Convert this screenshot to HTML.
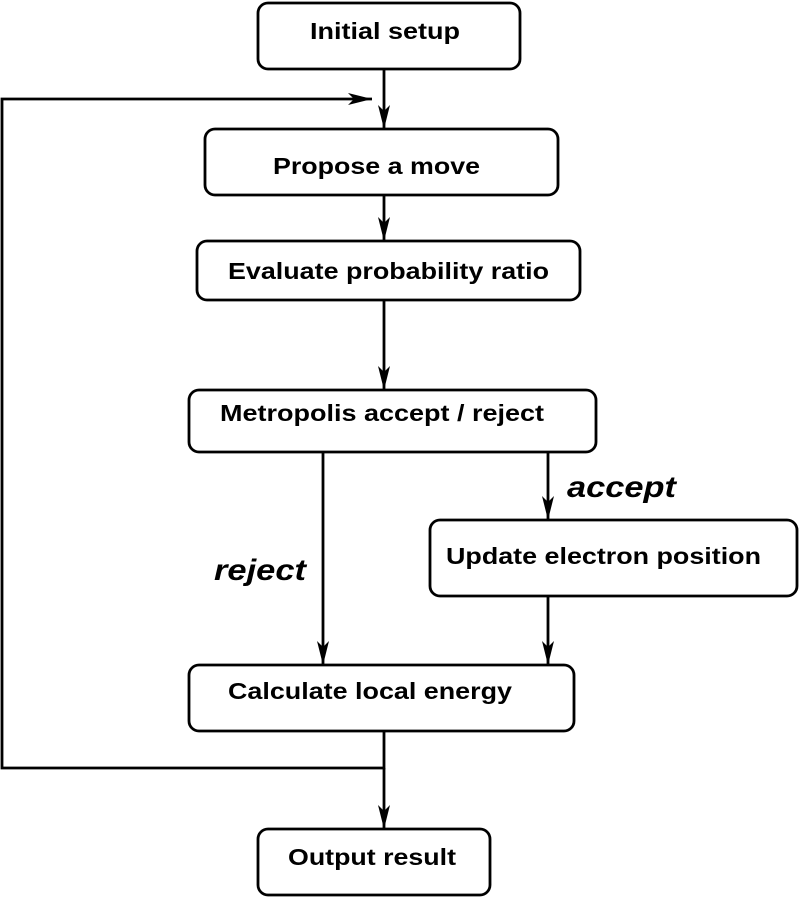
<!DOCTYPE html>
<html><head><meta charset="utf-8"><style>
html,body{margin:0;padding:0;background:#fff;}
svg{display:block;}
text{font-family:"Liberation Sans",sans-serif;font-weight:bold;fill:#000;}
</style></head><body>
<svg width="800" height="898" viewBox="0 0 800 898" xmlns="http://www.w3.org/2000/svg">
<defs>
<marker id="a" markerWidth="24" markerHeight="12" refX="24" refY="6" orient="auto" markerUnits="userSpaceOnUse">
<path d="M0,0 L6,6 L0,12 L24,6 Z" fill="#000"/>
</marker>
</defs>
<g fill="none" stroke="#000" stroke-width="2.8">
<rect x="258" y="3" width="262" height="66" rx="10"/>
<rect x="205" y="129" width="353" height="66" rx="10"/>
<rect x="197" y="241" width="383" height="59" rx="10"/>
<rect x="189" y="390" width="407" height="62" rx="10"/>
<rect x="430" y="520" width="367" height="76" rx="10"/>
<rect x="189" y="665" width="385" height="66" rx="10"/>
<rect x="258" y="829" width="232" height="66" rx="10"/>
</g>
<g fill="none" stroke="#000" stroke-width="2.8">
<line x1="384" y1="69" x2="384" y2="129" marker-end="url(#a)"/>
<polyline points="384,731 384,768 2,768 2,99 372,99" marker-end="url(#a)"/>
<line x1="384" y1="768" x2="384" y2="829" marker-end="url(#a)"/>
<line x1="384" y1="195" x2="384" y2="241" marker-end="url(#a)"/>
<line x1="384" y1="300" x2="384" y2="390" marker-end="url(#a)"/>
<line x1="323" y1="452" x2="323" y2="665" marker-end="url(#a)"/>
<line x1="548" y1="452" x2="548" y2="520" marker-end="url(#a)"/>
<line x1="548" y1="596" x2="548" y2="665" marker-end="url(#a)"/>
</g>
<g font-size="23.5">
<text x="310" y="39" textLength="150" lengthAdjust="spacingAndGlyphs">Initial setup</text>
<text x="273" y="174" textLength="207" lengthAdjust="spacingAndGlyphs">Propose a move</text>
<text x="228" y="279" textLength="321" lengthAdjust="spacingAndGlyphs">Evaluate probability ratio</text>
<text x="220" y="421" textLength="324" lengthAdjust="spacingAndGlyphs">Metropolis accept / reject</text>
<text x="446" y="564" textLength="315" lengthAdjust="spacingAndGlyphs">Update electron position</text>
<text x="228" y="699" textLength="284" lengthAdjust="spacingAndGlyphs">Calculate local energy</text>
<text x="288" y="865" textLength="168" lengthAdjust="spacingAndGlyphs">Output result</text>
</g>
<text x="567" y="497" font-size="30" font-style="italic" textLength="109" lengthAdjust="spacingAndGlyphs">accept</text>
<text x="214" y="580" font-size="30" font-style="italic" textLength="92" lengthAdjust="spacingAndGlyphs">reject</text>
</svg>
</body></html>
